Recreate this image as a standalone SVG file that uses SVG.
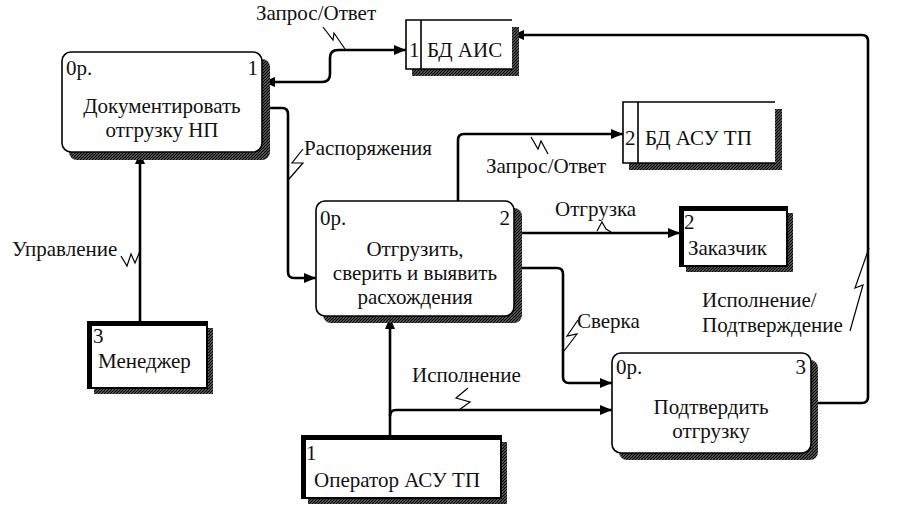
<svg xmlns="http://www.w3.org/2000/svg" width="920" height="524" viewBox="0 0 920 524" font-family="'Liberation Serif', 'DejaVu Serif', serif">
<defs>
<pattern id="hatch" width="3" height="3" patternUnits="userSpaceOnUse">
<rect width="3" height="3" fill="#fff"/>
<path d="M-1,1 L1,-1 M0,3 L3,0 M2,4 L4,2" stroke="#000" stroke-width="1.6"/>
</pattern>
<marker id="arr" viewBox="0 0 12 10" refX="12" refY="5" markerWidth="12" markerHeight="10" markerUnits="userSpaceOnUse" orient="auto-start-reverse">
<path d="M0,0 L12,5 L0,10 Z" fill="#000"/>
</marker>
<style>
text{font-family:'Liberation Serif','DejaVu Serif',serif;font-size:21px;fill:#111}
.mid{text-anchor:middle}
.proc{fill:#fff;stroke:#000;stroke-width:1.6}
.shadow{fill:url(#hatch);stroke:none}
.ds{fill:none;stroke:#000;stroke-width:1.6}
.ent{fill:#fff;stroke:#000;stroke-width:2}
.thick{stroke:#000;stroke-width:4;fill:none}
.conn{fill:none;stroke:#000;stroke-width:2.6;stroke-linejoin:round}
.sq{fill:none;stroke:#000;stroke-width:1.2}
</style>
</defs>
<rect width="920" height="524" fill="#fff"/>

<g id="connectors">
<path class="conn" d="M263,82 H322 Q330,82 330,74 V58 Q330,50 338,50 H406" marker-start="url(#arr)" marker-end="url(#arr)"/>
<path class="conn" d="M262,108 H282 Q288,108 288,114 V272 Q288,278 294,278 H316" marker-end="url(#arr)"/>
<path class="conn" d="M458,201 V140 Q458,134 464,134 H623" marker-end="url(#arr)"/>
<path class="conn" d="M515,233 H680" marker-end="url(#arr)"/>
<path class="conn" d="M515,268 H557 Q563,268 563,274 V377 Q563,383 569,383 H612" marker-end="url(#arr)"/>
<path class="conn" d="M390,436 V317" marker-end="url(#arr)"/>
<path class="conn" d="M390,416 Q390,410 396,410 H612" marker-end="url(#arr)"/>
<path class="conn" d="M811,403 H862 Q868,403 868,397 V41 Q868,35 862,35 H512" marker-end="url(#arr)"/>
<path class="conn" d="M140,322 V152" marker-end="url(#arr)"/>
<polyline class="sq" points="323,27 333,40 334,33 345,49"/>
<polyline class="sq" points="303,149 292,163 303,163 289,179"/>
<polyline class="sq" points="531,137 538,149 541,141 548,154"/>
<polyline class="sq" points="597,231 602,222 606,229 611,232"/>
<polyline class="sq" points="578,320 567,336 577,334 564,351"/>
<polyline class="sq" points="468,388 456,398 470,402 459,410"/>
<polyline class="sq" points="121,256 127,266 131,254 135,263 140,251"/>
<polyline class="sq" points="869,248 855,288 863,285 850,331"/>
<text x="256" y="20">Запрос/Ответ</text>
<text x="304" y="155">Распоряжения</text>
<text x="486" y="173">Запрос/Ответ</text>
<text x="555" y="216">Отгрузка</text>
<text x="577" y="328">Сверка</text>
<text x="412" y="382">Исполнение</text>
<text x="12" y="256">Управление</text>
<text x="702" y="307">Исполнение/</text>
<text x="702" y="332">Подтверждение</text>
</g>

<g id="process1">
<rect class="shadow" x="69" y="59" width="201" height="101" rx="8"/>
<rect class="proc" x="62" y="52" width="200" height="100" rx="9"/>
<text x="66" y="75">0р.</text>
<text x="258" y="75" text-anchor="end">1</text>
<text class="mid" x="162" y="113">Документировать</text>
<text class="mid" x="162" y="137">отгрузку НП</text>
</g>

<g id="process2">
<rect class="shadow" x="323" y="208" width="199" height="115" rx="8"/>
<rect class="proc" x="316" y="201" width="198" height="115" rx="9"/>
<text x="320" y="225">0р.</text>
<text x="510" y="225" text-anchor="end">2</text>
<text class="mid" x="415" y="256">Отгрузить,</text>
<text class="mid" x="415" y="280">сверить и выявить</text>
<text class="mid" x="415" y="304">расхождения</text>
</g>

<g id="process3">
<rect class="shadow" x="619" y="360" width="199" height="100" rx="8"/>
<rect class="proc" x="612" y="353" width="199" height="100" rx="9"/>
<text x="616" y="374">0р.</text>
<text x="806" y="374" text-anchor="end">3</text>
<text class="mid" x="711" y="414">Подтвердить</text>
<text class="mid" x="711" y="438">отгрузку</text>
</g>

<g id="store1">
<rect class="shadow" x="412" y="27" width="107" height="49"/>
<rect x="406" y="20" width="106" height="49" fill="#fff"/>
<path class="ds" d="M512,20 H406 V69 H512 M421,20 V69"/>
<text x="409" y="57">1</text>
<text x="427" y="57">БД АИС</text>
</g>

<g id="store2">
<rect class="shadow" x="629" y="109" width="153" height="61"/>
<rect x="623" y="102" width="152" height="61" fill="#fff"/>
<path class="ds" d="M775,102 H623 V163 H775 M638,102 V163"/>
<text x="625" y="145">2</text>
<text x="645" y="145">БД АСУ ТП</text>
</g>

<g id="customer">
<rect class="shadow" x="686" y="213" width="107" height="59"/>
<rect class="ent" x="680" y="207" width="107" height="59"/>
<path class="thick" d="M682,266 V209 H787"/>
<text x="684" y="229">2</text>
<text x="688" y="255">Заказчик</text>
</g>

<g id="manager">
<rect class="shadow" x="94" y="328" width="119" height="66"/>
<rect class="ent" x="88" y="322" width="119" height="66"/>
<path class="thick" d="M90,388 V324 H207"/>
<text x="93" y="343">3</text>
<text x="98" y="368">Менеджер</text>
</g>

<g id="operator">
<rect class="shadow" x="308" y="442" width="199" height="62"/>
<rect class="ent" x="302" y="436" width="199" height="62"/>
<path class="thick" d="M304,498 V438 H501"/>
<text x="306" y="460">1</text>
<text x="314" y="487">Оператор АСУ ТП</text>
</g>
</svg>
